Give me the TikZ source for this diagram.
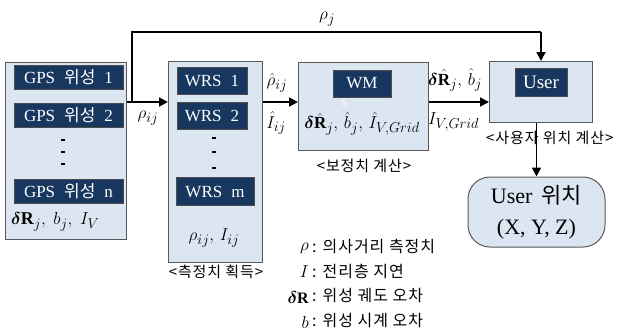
\documentclass[tikz,border=0pt]{standalone}
\usepackage{fontspec}
\usepackage{bm}
\setmainfont{Liberation Serif}
\newfontfamily\kr{Noto Sans CJK KR}
\newfontfamily\krsp[LetterSpace=6]{Noto Sans CJK KR}
\usetikzlibrary{arrows.meta}
\definecolor{panel}{HTML}{DCE6F2}
\definecolor{panelline}{HTML}{595959}
\definecolor{navy}{HTML}{17375E}
\DeclareMathSizes{18}{18}{14}{11}
\DeclareMathSizes{17}{17}{13.5}{10.5}
\DeclareMathSizes{16}{16}{12.5}{10}
\newcommand{\gap}{\hspace{9pt}}
\tikzset{
  x=1pt, y=-1pt,
  outerbox/.style={draw=panelline, line width=1pt, fill=panel, anchor=north west, inner sep=0pt},
  darkbox/.style={draw=black!70, line width=0.8pt, fill=navy, text=white, inner sep=0pt,
    font=\fontsize{17}{18}\selectfont},
  conn/.style={line width=1.8pt, -{Triangle[length=9pt,width=9pt]}},
  plain/.style={line width=1.8pt},
  lab/.style={font=\fontsize{18}{20}\selectfont, inner sep=0pt},
  sublab/.style={font=\fontsize{17}{18}\selectfont, inner sep=0pt},
  caption/.style={font=\krsp\fontsize{15}{17}\selectfont, inner sep=0pt},
  legsym/.style={font=\fontsize{16}{18}\selectfont, inner sep=0pt, anchor=east},
  legtext/.style={font=\krsp\fontsize{16}{18}\selectfont, anchor=west, inner sep=0pt},
  vdot/.style={fill=black, inner sep=0pt, minimum width=4pt, minimum height=2.5pt}
}
\begin{document}
\begin{tikzpicture}
\useasboundingbox (0,0) rectangle (622,335);

% GPS satellites
\node[outerbox, minimum width=121pt, minimum height=177pt] (gps) at (5,62) {};
\node[darkbox, minimum width=109pt, minimum height=24pt] (g1) at (68.5,77) {GPS\gap{\kr 위성}\gap1};
\node[darkbox, minimum width=109pt, minimum height=24pt] (g2) at (68.5,115) {GPS\gap{\kr 위성}\gap2};
\node[vdot] (gd1) at (63,140) {};
\node[vdot] (gd2) at (63,152) {};
\node[vdot] (gd3) at (63,164) {};
\node[darkbox, minimum width=109pt, minimum height=24pt] (gn) at (68.5,191) {GPS\gap{\kr 위성}\gap n};
\node[lab, anchor=west] (gpsv) at (11,222) {$\bm{\delta}\mathbf{R}_j,\; b_j,\; I_V$};

% WRS stations
\node[outerbox, minimum width=94pt, minimum height=201pt] (wrs) at (168,61) {};
\node[darkbox, minimum width=70pt, minimum height=27pt] (w1) at (212,81) {WRS\gap1};
\node[darkbox, minimum width=70pt, minimum height=27pt] (w2) at (212,116) {WRS\gap2};
\node[vdot] (wd1) at (214,138) {};
\node[vdot] (wd2) at (214,152) {};
\node[vdot] (wd3) at (214,168) {};
\node[darkbox, minimum width=78pt, minimum height=28pt] (wm) at (215,191.5) {WRS\gap m};
\node[lab] (wrsv) at (214,238) {$\rho_{ij},\, I_{ij}$};
\node[caption] (wrscap) at (216,272) {<측정치 획득>};

% WM correction block
\node[outerbox, minimum width=130pt, minimum height=88pt] (wmb) at (298,62) {};
\node[darkbox, minimum width=58pt, minimum height=27pt] (wmd) at (362,83.5) {WM};
\node[text=white, font=\fontsize{11}{12}\selectfont, inner sep=0pt] (wms) at (344,103) {S};
\node[sublab] (wmv) at (362,124) {$\bm{\delta}\hat{\mathbf{R}}_j,\, \hat{b}_j,\, \hat{I}_{V,Grid}$};
\node[caption] (wmcap) at (364,166) {<보정치 계산>};

% User block
\node[outerbox, minimum width=103pt, minimum height=61pt] (user) at (489,61) {};
\node[darkbox, minimum width=52pt, minimum height=28pt, font=\fontsize{19}{20}\selectfont] (ud) at (541,82) {User};
\node[caption, anchor=west] (ucap) at (486,138) {<사용자 위치 계산>};

% Position output
\node[draw=panelline, line width=1pt, fill=panel, rounded corners=22pt,
      minimum width=137pt, minimum height=70pt, inner sep=0pt,
      font=\fontsize{22}{31}\selectfont, align=center] (pos) at (536.5,212)
      {User\, {\kr 위치}\\(X,\ Y,\ Z)};

% Connectors
\coordinate (split) at (132,102);
\coordinate (topL) at (132,32);
\coordinate (topR) at (user.north |- topL);
\draw[conn] (gps.east |- split) -- (wrs.west |- split);
\draw[plain] (split) -- (topL) -- (topR);
\draw[conn] (topR) -- (user.north);
\draw[conn] (wrs.east |- split) -- (wmb.west |- split);
\draw[conn] (wmb.east |- split) -- (user.west |- split);
\draw[conn] (user.south -| pos.north) -- (pos.north);

% Connector labels
\node[lab] (lrj) at (327,19) {$\rho_j$};
\node[lab] (lrij) at (148,118) {$\rho_{ij}$};
\node[lab] (lrh) at (277,83) {$\hat{\rho}_{ij}$};
\node[lab] (lih) at (276,123) {$\hat{I}_{ij}$};
\node[sublab, anchor=west] (lrb) at (428,80) {$\bm{\delta}\hat{\mathbf{R}}_j,\, \hat{b}_j$};
\node[sublab, anchor=west] (liv) at (428,122) {$I_{V,Grid}$};

% Legend
\node[legsym] (s1) at (309,248) {$\rho$};
\node[legsym] (s2) at (309,272) {$I$};
\node[legsym] (s3) at (309,297) {$\bm{\delta}\mathbf{R}$};
\node[legsym] (s4) at (309,322) {$b$};
\node[legtext] (t1) at (312,246) {: 의사거리 측정치};
\node[legtext] (t2) at (312,271) {: 전리층 지연};
\node[legtext] (t3) at (312,296) {: 위성 궤도 오차};
\node[legtext] (t4) at (312,321) {: 위성 시계 오차};
\end{tikzpicture}
\end{document}
